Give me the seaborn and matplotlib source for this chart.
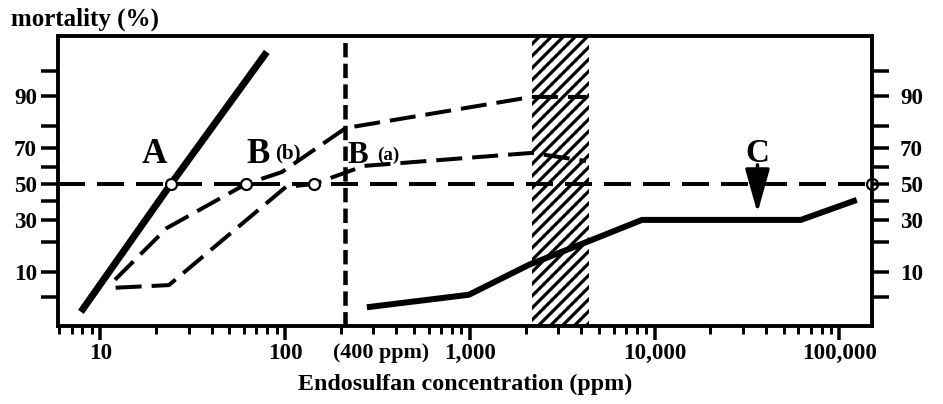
import math
import numpy as np
import matplotlib
matplotlib.use("Agg")
import matplotlib.pyplot as plt
import seaborn as sns
from matplotlib.ticker import FixedLocator, FixedFormatter, NullFormatter, LogLocator

# ---------------- data ----------------
a_conc = [7.85, 24.1, 79.6]
a_mort = [3.1, 50, 97.3]

bb_conc = [12.0, 22.9, 61.4, 96, 213, 2160, 4250]
bb_mort = [8.1, 26.0, 50, 56.9, 79.3, 89.8, 89.8]

ba_conc = [12.1, 23.5, 101, 143, 267, 2160, 4250]
ba_mort = [6.5, 7.0, 48.3, 50, 60.4, 67.5, 63.1]

c_conc = [277, 988, 2085, 4990, 8530, 61800, 124000]
c_mort = [3.6, 5.3, 11.9, 21.9, 30, 30, 40.8]

lc50_conc = [24.1, 61.4, 143, 150000]
lc50_mort = [50, 50, 50, 50]

ref_conc = 210
ref_label = "(400 ppm)"
band_conc = [2160, 4400]
arrow_conc = 36000
arrow_mort = [61.0, 33.6]

x_ticks = [10, 100, 1000, 10000, 100000]
x_ticklabels = ["10", "100", "1,000", "10,000", "100,000"]
y_ticks = [10, 30, 50, 70, 90]
y_ticklabels = ["10", "30", "50", "70", "90"]
y_minor = [5, 20, 40, 60, 80, 95]

# ---------------- probit scale ----------------
_a = [-3.969683028665376e+01, 2.209460984245205e+02, -2.759285104469687e+02,
      1.383577518672690e+02, -3.066479806614716e+01, 2.506628277459239e+00]
_b = [-5.447609879822406e+01, 1.615858368580409e+02, -1.556989798598866e+02,
      6.680131188771972e+01, -1.328068155288572e+01]
_c = [-7.784894002430293e-03, -3.223964580411365e-01, -2.400758277161838e+00,
      -2.549732539343734e+00, 4.374664141464968e+00, 2.938163982698783e+00]
_d = [7.784695709041462e-03, 3.224671290700398e-01, 2.445134137142996e+00,
      3.754408661907416e+00]


def probit(pct):
    p = np.clip(np.asarray(pct, dtype=float) / 100.0, 1e-9, 1 - 1e-9)
    plow = 0.02425
    q = p - 0.5
    r = q * q
    central = (((((_a[0]*r+_a[1])*r+_a[2])*r+_a[3])*r+_a[4])*r+_a[5])*q / \
              (((((_b[0]*r+_b[1])*r+_b[2])*r+_b[3])*r+_b[4])*r+1)
    ql = np.sqrt(-2*np.log(p))
    low = (((((_c[0]*ql+_c[1])*ql+_c[2])*ql+_c[3])*ql+_c[4])*ql+_c[5]) / \
          ((((_d[0]*ql+_d[1])*ql+_d[2])*ql+_d[3])*ql+1)
    qu = np.sqrt(-2*np.log(1-p))
    up = -(((((_c[0]*qu+_c[1])*qu+_c[2])*qu+_c[3])*qu+_c[4])*qu+_c[5]) / \
         ((((_d[0]*qu+_d[1])*qu+_d[2])*qu+_d[3])*qu+1)
    return np.where(p < plow, low, np.where(p > 1 - plow, up, central))


_erfc = np.vectorize(math.erfc)


def inv_probit(z):
    z = np.asarray(z, dtype=float)
    return 50.0 * _erfc(-z / math.sqrt(2.0))


# ---------------- styling ----------------
sns.set_theme(style="white")
plt.rcParams["font.family"] = ["Liberation Serif", "DejaVu Serif"]
plt.rcParams["font.weight"] = "bold"
plt.rcParams["text.color"] = "black"
plt.rcParams["axes.labelcolor"] = "black"
plt.rcParams["hatch.linewidth"] = 3.2
plt.rcParams["hatch.color"] = "black"

DPI = 72
fig = plt.figure(figsize=(943 / DPI, 404 / DPI), dpi=DPI)
ax = fig.add_axes([58 / 943, 1 - 326 / 404, 814 / 943, 290 / 404])

ax.set_xscale("log")
ax.set_yscale("function", functions=(probit, inv_probit))

# hatched band
ax.axvspan(band_conc[0], band_conc[1], facecolor="none", edgecolor="black",
           hatch="//", linewidth=0, zorder=1)

# reference lines
ax.axhline(50, color="black", lw=4, linestyle=(0, (6.75, 3.0)), zorder=2)
ax.axvline(ref_conc, color="black", lw=4.5, linestyle=(0, (3.2, 1.4)), zorder=2)

# curves
sns.lineplot(x=a_conc, y=a_mort, ax=ax, color="black", lw=7, sort=False,
             estimator=None, solid_capstyle="butt", zorder=3)
sns.lineplot(x=bb_conc, y=bb_mort, ax=ax, color="black", lw=4, sort=False,
             estimator=None, linestyle=(0, (6.5, 2.5)), zorder=3)
sns.lineplot(x=ba_conc, y=ba_mort, ax=ax, color="black", lw=4, sort=False,
             estimator=None, linestyle=(0, (6.5, 2.5)), zorder=3)
sns.lineplot(x=c_conc, y=c_mort, ax=ax, color="black", lw=6, sort=False,
             estimator=None, solid_capstyle="butt", zorder=3)

# LC50 markers
sns.scatterplot(x=lc50_conc, y=lc50_mort, ax=ax, s=121, color="white",
                edgecolor="black", linewidth=2.2, zorder=6, clip_on=False)

# arrow for C
ax.annotate("", xy=(arrow_conc, arrow_mort[1]), xytext=(arrow_conc, arrow_mort[0]),
            arrowprops=dict(arrowstyle="-|>,head_length=2.5,head_width=0.7",
                            mutation_scale=15, lw=3.5, color="black",
                            shrinkA=0, shrinkB=0), zorder=5)

# curve labels
ax.text(19.6, 66.7, "A", fontsize=35, ha="center", va="center", color="black")
ax.text(71.7, 66.4, "B", fontsize=35, ha="center", va="center", color="black")
ax.text(103, 67.3, "(b)", fontsize=21, ha="center", va="center", color="black")
ax.text(248, 65.9, "B", fontsize=31, ha="center", va="center", color="black")
ax.text(362, 66.3, "(a)", fontsize=19, ha="center", va="center", color="black")
ax.text(arrow_conc, 67.3, "C", fontsize=33, ha="center", va="center", color="black")

# limits
ax.set_xlim(5.9, 150000)
ax.set_ylim(1.91, 98.46)

# x ticks
ax.xaxis.set_major_locator(FixedLocator(x_ticks))
ax.xaxis.set_major_formatter(FixedFormatter(x_ticklabels))
ax.xaxis.set_minor_locator(LogLocator(base=10, subs=np.arange(2, 10)))
ax.xaxis.set_minor_formatter(NullFormatter())
ax.tick_params(axis="x", which="major", direction="out", length=14, width=3.5,
               pad=3, labelsize=23, bottom=True, top=False, colors="black")
ax.tick_params(axis="x", which="minor", direction="out", length=8, width=3,
               bottom=True, top=False, colors="black")

# y ticks left
ax.yaxis.set_major_locator(FixedLocator(y_ticks))
ax.yaxis.set_major_formatter(FixedFormatter(y_ticklabels))
ax.yaxis.set_minor_locator(FixedLocator(y_minor))
ax.yaxis.set_minor_formatter(NullFormatter())
ax.tick_params(axis="y", which="both", direction="out", length=17, width=3.5,
               pad=4, labelsize=23, left=True, right=False, colors="black")

# y ticks right (twin)
ax2 = ax.twinx()
ax2.set_yscale("function", functions=(probit, inv_probit))
ax2.set_ylim(ax.get_ylim())
ax2.yaxis.set_major_locator(FixedLocator(y_ticks))
ax2.yaxis.set_major_formatter(FixedFormatter(y_ticklabels))
ax2.yaxis.set_minor_locator(FixedLocator(y_minor))
ax2.yaxis.set_minor_formatter(NullFormatter())
ax2.tick_params(axis="y", which="both", direction="out", length=17, width=3.5,
                pad=11, labelsize=23, right=True, left=False, colors="black")
ax2.grid(False)

for a in (ax, ax2):
    for s in a.spines.values():
        s.set_linewidth(3.5)
        s.set_color("black")
ax.grid(False)

# special tick label for the reference line
ax.annotate(ref_label, xy=(ref_conc, 0), xycoords=("data", "axes fraction"),
            xytext=(-12, -17), textcoords="offset points", ha="left", va="top",
            fontsize=22, color="black")

# axis titles
fig.text(11 / 943, 1 - 26 / 404, "mortality (%)", fontsize=25, ha="left",
         va="baseline", color="black")
fig.text(465 / 943, 14 / 404, "Endosulfan concentration (ppm)", fontsize=24,
         ha="center", va="baseline", color="black")

fig.savefig("out.png", dpi=DPI)
